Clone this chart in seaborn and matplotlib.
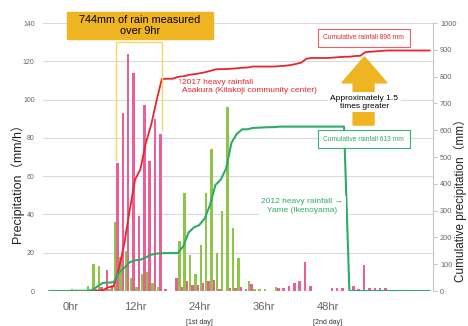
import numpy as np
import matplotlib
matplotlib.use("Agg")
import matplotlib.pyplot as plt
from matplotlib.patches import Rectangle, Polygon
import seaborn as sns

# hourly rainfall (mm/h), bar for hour h covers [h, h+1]
hours = np.arange(-4, 67)
asakura_2017 = [
    0, 0, 0, 0,                                   # -4..-1
    0, 0, 0, 0, 1, 2, 11, 3, 67, 93,              # 0..9
    124, 114, 39, 97, 68, 90, 82, 1, 0, 7,        # 10..19
    2, 5, 3, 3, 4, 5, 6, 1, 0, 1.5,               # 20..29
    1.5, 2, 1, 3.5, 0, 0, 0, 0, 1.5, 1.5,         # 30..39
    2.5, 4, 5, 15, 2.5, 0, 0, 0, 1.5, 1.5,        # 40..49
    1.5, 0, 2.6, 1, 13.6, 1.7, 1.5, 1.5, 1.5, 0,  # 50..59
    0, 0, 0, 0, 0, 0, 0,                          # 60..66
]
yame_2012 = [
    0, 0, 0, 0,
    0.8, 0, 0, 2.6, 14, 13, 1, 1, 36, 18,
    21, 7, 2, 9, 10, 4, 2, 0, 0, 0,
    26, 51, 19, 9, 24, 51, 74, 20, 42, 96,
    33, 17, 0, 5, 1, 1, 1, 0, 2, 0,
    0, 0, 0, 0, 0, 0, 0, 0, 0, 0,
    0, 0, 0, 0, 0, 0, 0, 0, 0, 0,
    0, 0, 0, 0, 0, 0, 0,
]
yame_last_hour = 51   # Yame record ends here, its cumulative line drops to 0

tick_hours = [0, 12, 24, 36, 48]
tick_labels = ["0hr", "12hr", "24hr", "36hr", "48hr"]
day_labels = ["[1st day]", "[2nd day]"]
day_hours = [24, 48]

PINK = "#EA5F95"
LIGHT_GREEN = "#8CC547"
RED = "#E5262D"
GREEN = "#2EAB68"
GOLD = "#EFB421"
GREY = "#666666"

sns.set_theme(style="white")
plt.rcParams["font.family"] = ["Liberation Sans", "Noto Sans CJK JP", "DejaVu Sans"]

# cumulative precipitation at hour boundaries
bounds = np.arange(hours[0], hours[-1] + 2)
asakura_cum = np.concatenate([[0], np.cumsum(asakura_2017)])
yame_cum = np.concatenate([[0], np.cumsum(yame_2012)])
yame_cum[bounds > yame_last_hour] = 0

fig = plt.figure(figsize=(4.68, 3.26), dpi=100)
rect = [43 / 468, 35 / 326, 390 / 468, 268 / 326]
ax = fig.add_axes(rect)
xlim = (-5.17, 67.6)

ax.bar(hours + 0.73, asakura_2017, width=0.46, color=PINK, lw=0, zorder=2)
ax.bar(hours + 0.27, yame_2012, width=0.46, color=LIGHT_GREEN, lw=0, zorder=2)
ax.set_xlim(*xlim)
ax.set_ylim(0, 140)
ax.set_yticks(range(0, 141, 20))
ax.grid(axis="y", color="#DADADA", lw=0.8, zorder=0)
ax.set_xticks(tick_hours, tick_labels)
ax.tick_params(axis="x", length=0, labelsize=8, labelcolor=GREY, pad=8)
ax.tick_params(axis="y", length=0, labelsize=5, labelcolor=GREY, pad=6)
for s in ax.spines.values():
    s.set_visible(False)

ax2 = ax.twinx()
sns.lineplot(x=bounds, y=asakura_cum, ax=ax2, color=RED, lw=1.3)
sns.lineplot(x=bounds, y=yame_cum, ax=ax2, color=GREEN, lw=1.5)
ax2.set_ylim(0, 1000)
ax2.set_xlim(*xlim)
ax2.set_yticks(range(0, 1001, 100))
ax2.set_ylabel("")
ax2.tick_params(axis="y", length=3, width=0.6, color="#BBBBBB", labelsize=5.3,
                labelcolor=GREY, pad=2)
for k, s in ax2.spines.items():
    s.set_visible(k == "right")
ax2.spines["right"].set_color("#C8C8C8")
ax2.spines["right"].set_linewidth(0.8)

for lab, h in zip(day_labels, day_hours):
    ax.annotate(lab, xy=(h, 0), xytext=(0, -31), textcoords="offset pixels",
                ha="center", va="center", fontsize=5, color="#333333")

fig.text(17 / 468, 1 - 180 / 326, "Precipitation（mm/h）", rotation=90,
         ha="center", va="center", fontsize=9, color="#222222")
fig.text(460 / 468, 1 - 198 / 326, "Cumulative precipitation（mm）", rotation=90,
         ha="center", va="center", fontsize=8.5, color="#222222")

# overlay for annotations, same data coords as the left axis
ann = fig.add_axes(rect)
ann.set_xlim(*xlim)
ann.set_ylim(0, 140)
ann.axis("off")

ann.add_patch(Rectangle((-0.69, 131.7), 27.3, 14.1, color=GOLD, clip_on=False, zorder=5))
ann.text(12.95, 138.8, "744mm of rain measured\nover 9hr", ha="center", va="center",
         fontsize=7.8, linespacing=1.1, color="black", zorder=6)
ann.plot([8.45, 8.45, 17.03, 17.03], [68.4, 130, 130, 84], color="#F4D66A", lw=1,
         clip_on=False, zorder=5)

ann.text(20.8, 106.9, "2017 heavy rainfall\nAsakura (Kitakoji community center)",
         ha="left", va="center", fontsize=6, linespacing=1.32, color=RED,
         bbox=dict(boxstyle="square,pad=0.2", fc="white", ec="none"), zorder=5)
ann.text(20.8, 109.8, "↑", ha="right", va="center", fontsize=6.5, color=RED, zorder=6)

ann.text(43.2, 44.4, "2012 heavy rainfall →\nYame (Ikenoyama)", ha="center",
         va="center", multialignment="center", fontsize=6, linespacing=1.32,
         color=GREEN, bbox=dict(boxstyle="square,pad=0.3", fc="white", ec="none"),
         zorder=5)

ann.text(54.7, 132.2, "Cumulative rainfall 896 mm", ha="center", va="center",
         fontsize=4.8, color=RED,
         bbox=dict(boxstyle="square,pad=0.85", fc="white", ec="#E06070", lw=0.8),
         zorder=5)
ann.text(54.7, 79.4, "Cumulative rainfall 613 mm", ha="center", va="center",
         fontsize=4.8, color=GREEN,
         bbox=dict(boxstyle="square,pad=0.85", fc="white", ec="#3DB077", lw=0.8),
         zorder=5)

arrow = Polygon([(52.7, 86.7), (52.7, 108.7), (50.6, 108.7), (54.8, 122.3),
                 (59.0, 108.7), (56.6, 108.7), (56.6, 86.7)],
                closed=True, color=GOLD, zorder=4)
ann.add_patch(arrow)
ann.text(54.8, 98.5, "Approximately 1.5\ntimes greater", ha="center", va="center",
         fontsize=6, color="black",
         bbox=dict(boxstyle="square,pad=0.3", fc="white", ec="none"), zorder=5)

fig.savefig("out.png", dpi=100)
